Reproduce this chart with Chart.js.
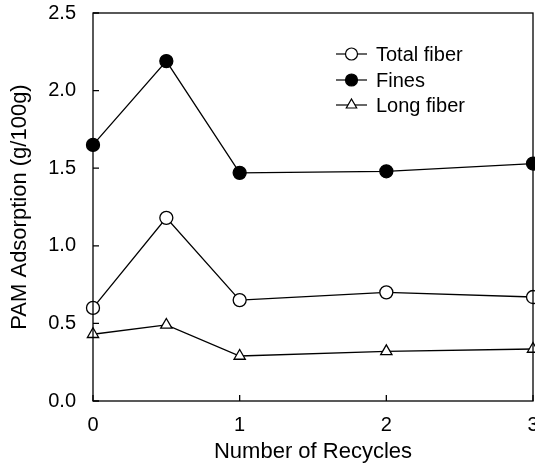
<!DOCTYPE html>
<html>
<head>
<meta charset="utf-8">
<style>
  html, body { margin: 0; padding: 0; background: #fff; }
  canvas { display: block; }
</style>
<script src="https://cdn.jsdelivr.net/npm/chart.js@4/dist/chart.umd.min.js"></script>
</head>
<body>
<canvas id="chart" width="535" height="470"></canvas>
<script>
// Number of recycles at which adsorption was measured
const recycles = [0, 0.5, 1, 2, 3];

// PAM adsorption, g per 100 g
const totalFiber = [0.60, 1.18, 0.65, 0.70, 0.67];
const fines      = [1.65, 2.19, 1.47, 1.48, 1.53];
const longFiber  = [0.43, 0.49, 0.29, 0.32, 0.335];

const seriesNames = ['Total fiber', 'Fines', 'Long fiber'];
const xTicks = [0, 1, 2, 3];
const yTicks = [0, 0.5, 1.0, 1.5, 2.0, 2.5];

const FONT = 'Liberation Sans, Arial, Helvetica, sans-serif';
const INK = '#000';

function toPoints(values) {
  return values.map((v, i) => ({ x: recycles[i], y: v }));
}

function series(label, values, style, fill) {
  return {
    label,
    data: toPoints(values),
    borderColor: INK,
    borderWidth: 1.3,
    backgroundColor: fill,
    pointBackgroundColor: fill,
    pointBorderColor: INK,
    pointBorderWidth: 1.3,
    pointStyle: style,
    pointRadius: 6.5,
    pointHoverRadius: 6.5,
    tension: 0,
    clip: false
  };
}

// Plot frame plus short inward tick marks
const framePlugin = {
  id: 'frame',
  afterDatasetsDraw(chart) {
    const { ctx, chartArea: a, scales } = chart;
    ctx.save();
    ctx.strokeStyle = INK;
    ctx.lineWidth = 1.3;
    ctx.strokeRect(a.left, a.top, a.right - a.left, a.bottom - a.top);
    ctx.beginPath();
    yTicks.forEach(v => {
      const y = scales.y.getPixelForValue(v);
      ctx.moveTo(a.left, y);
      ctx.lineTo(a.left + 6, y);
    });
    xTicks.forEach(v => {
      const x = scales.x.getPixelForValue(v);
      ctx.moveTo(x, a.bottom);
      ctx.lineTo(x, a.bottom - 6);
    });
    ctx.stroke();
    ctx.restore();
  }
};

// Legend drawn as a short line with the series marker, then its name
const legendPlugin = {
  id: 'lineLegend',
  afterDraw(chart) {
    const { ctx } = chart;
    const x0 = 336, x1 = 367, textX = 376;
    const rows = [54, 80, 105];
    ctx.save();
    ctx.font = '20px ' + FONT;
    ctx.textBaseline = 'middle';
    ctx.textAlign = 'left';
    chart.data.datasets.forEach((ds, i) => {
      const y = rows[i];
      ctx.strokeStyle = INK;
      ctx.lineWidth = 1.2;
      ctx.beginPath();
      ctx.moveTo(x0, y);
      ctx.lineTo(x1, y);
      ctx.stroke();
      ctx.fillStyle = ds.pointBackgroundColor;
      Chart.helpers.drawPoint(ctx, {
        pointStyle: ds.pointStyle,
        radius: 6,
        borderWidth: 1.2,
        rotation: 0
      }, (x0 + x1) / 2, y);
      ctx.fillStyle = INK;
      ctx.fillText(ds.label, textX, y + 1);
    });
    ctx.restore();
  }
};

new Chart(document.getElementById('chart'), {
  type: 'line',
  data: {
    datasets: [
      series(seriesNames[0], totalFiber, 'circle', '#fff'),
      series(seriesNames[1], fines, 'circle', INK),
      series(seriesNames[2], longFiber, 'triangle', '#fff')
    ]
  },
  options: {
    responsive: false,
    animation: false,
    events: [],
    layout: { autoPadding: false, padding: { top: 13, right: 2, left: 0, bottom: 0 } },
    plugins: {
      legend: { display: false },
      tooltip: { enabled: false }
    },
    scales: {
      x: {
        type: 'linear',
        min: 0,
        max: 3,
        afterFit(scale) {
          scale.height = 69;
          scale.paddingLeft = 0;
          scale.paddingRight = 0;
        },
        afterBuildTicks(scale) { scale.ticks = xTicks.map(v => ({ value: v })); },
        grid: { display: false, drawTicks: false, tickLength: 0 },
        border: { display: false },
        ticks: {
          color: INK,
          padding: 12,
          maxRotation: 0,
          font: { family: FONT, size: 20 },
          callback: v => String(v)
        },
        title: {
          display: true,
          text: 'Number of Recycles',
          color: INK,
          font: { family: FONT, size: 22 },
          padding: { top: 0, bottom: 5 }
        }
      },
      y: {
        type: 'linear',
        min: 0,
        max: 2.5,
        afterFit(scale) {
          scale.width = 93;
          scale.paddingTop = 0;
          scale.paddingBottom = 0;
        },
        afterBuildTicks(scale) { scale.ticks = yTicks.map(v => ({ value: v })); },
        grid: { display: false, drawTicks: false, tickLength: 0 },
        border: { display: false },
        ticks: {
          color: INK,
          padding: 17,
          font: { family: FONT, size: 20 },
          callback: v => Number(v).toFixed(1)
        },
        title: {
          display: true,
          text: 'PAM Adsorption (g/100g)',
          color: INK,
          font: { family: FONT, size: 22 },
          padding: { top: 7, bottom: 0 }
        }
      }
    }
  },
  plugins: [framePlugin, legendPlugin]
});
</script>
</body>
</html>
